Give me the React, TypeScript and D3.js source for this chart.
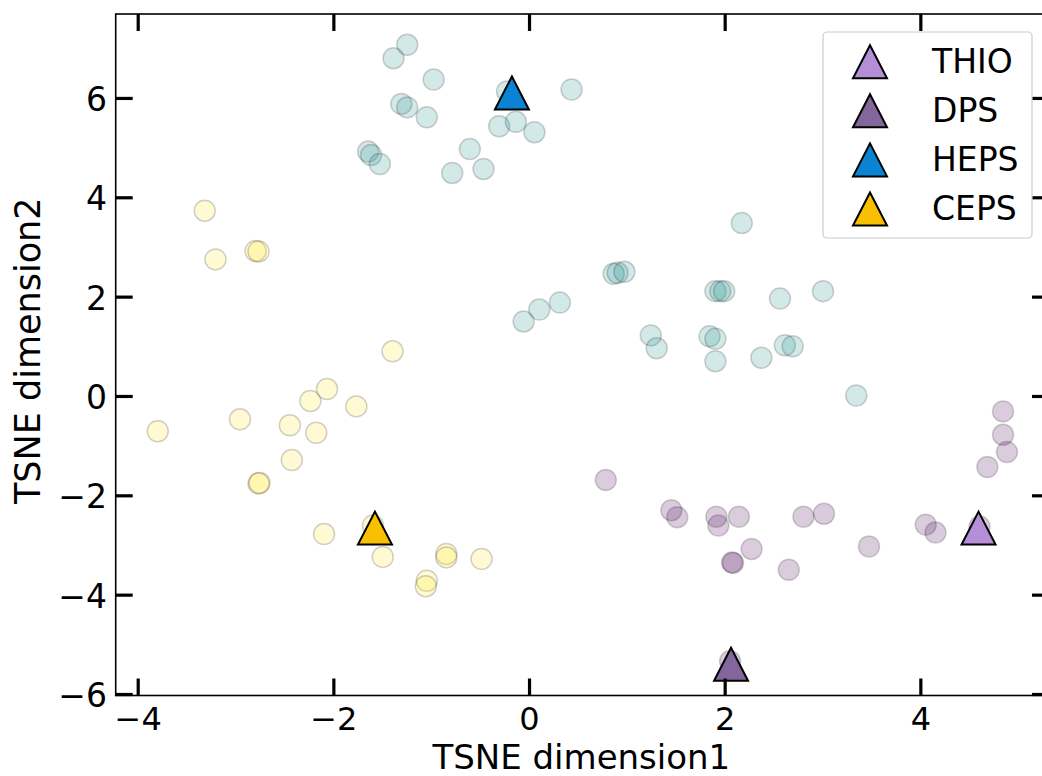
import React from "react";
import * as d3 from "d3";

// cluster points (viridis-coloured background samples)
const purplePts: [number, number][] = [
  [4.84, -0.3], [4.84, -0.77], [4.88, -1.12], [4.68, -1.42], [0.78, -1.68],
  [1.45, -2.29], [1.51, -2.43], [1.91, -2.42], [1.93, -2.6], [2.14, -2.42],
  [2.8, -2.42], [3.01, -2.36], [4.05, -2.58], [4.15, -2.74], [2.07, -3.34],
  [2.08, -3.35], [2.27, -3.07], [2.65, -3.49], [3.47, -3.02], [4.6, -2.62],
  [2.05, -5.33],
];
const tealPts: [number, number][] = [
  [-1.25, 7.08], [-1.39, 6.81], [-0.98, 6.38], [-1.31, 5.89], [-1.25, 5.82],
  [-1.05, 5.62], [-1.65, 4.93], [-1.62, 4.86], [-1.53, 4.68], [-0.61, 4.98],
  [-0.79, 4.5], [-0.47, 4.58], [-0.31, 5.44], [-0.14, 5.53], [0.05, 5.32],
  [0.43, 6.18], [-0.23, 6.14], [-0.06, 1.51], [0.1, 1.75], [0.31, 1.89],
  [0.86, 2.47], [0.9, 2.49], [0.97, 2.51], [1.24, 1.23], [1.3, 0.97],
  [1.9, 2.12], [1.95, 2.12], [1.99, 2.12], [2.56, 1.97], [3.0, 2.12],
  [1.84, 1.21], [1.9, 1.16], [1.9, 0.71], [2.37, 0.78], [2.61, 1.03],
  [2.69, 1.01], [3.34, 0.02], [2.17, 3.49],
];
const yellowPts: [number, number][] = [
  [-3.32, 3.74], [-3.21, 2.76], [-2.8, 2.93], [-2.77, 2.92], [-3.8, -0.7],
  [-2.96, -0.46], [-2.77, -1.75], [-2.76, -1.74], [-2.45, -0.58], [-2.24, -0.09],
  [-2.07, 0.15], [-2.18, -0.73], [-2.43, -1.28], [-1.77, -0.2], [-1.4, 0.91],
  [-2.1, -2.77], [-1.5, -3.23], [-0.85, -3.17], [-0.85, -3.24], [-0.49, -3.27],
  [-1.05, -3.71], [-1.06, -3.82], [-1.6, -2.6],
];

// reference samples (triangles)
const refNames = ["THIO", "DPS", "HEPS", "CEPS"];
const refX = [4.59, 2.06, -0.18, -1.58];
const refY = [-2.65, -5.39, 6.11, -2.65];
const refColors = ["#b48fd7", "#83669b", "#0a84d2", "#f8c000"];

const xTicks = [-4, -2, 0, 2, 4];
const yTicks = [-6, -4, -2, 0, 2, 4, 6];

const W = 1042;
const H = 776;
const L = 115.7, R = 1049, T = 14, B = 695.5;

export default function App() {
  const x = d3.scaleLinear().domain([-4.23, 5.31]).range([L, R]);
  const y = d3.scaleLinear().domain([-6.02, 7.7]).range([B, T]);
  const font = "'DejaVu Sans', sans-serif";
  const tri = (cx: number, cy: number, w = 34, h = 33) =>
    `M${cx},${cy - h / 2}L${cx + w / 2},${cy + h / 2}L${cx - w / 2},${cy + h / 2}Z`;
  const groups: { pts: [number, number][]; color: string }[] = [
    { pts: purplePts, color: "#440154" },
    { pts: tealPts, color: "#21918c" },
    { pts: yellowPts, color: "#fde725" },
  ];
  const tickLen = 17;
  const fmt = (t: number) => (t < 0 ? "\u2212" + Math.abs(t) : String(t));
  return (
    <svg width={W} height={H} style={{ position: "absolute", left: 0, top: 0, background: "#fff" }}
      fontFamily={font}>
      <rect x={0} y={0} width={W} height={H} fill="#fff" />
      {groups.map((g, gi) =>
        g.pts.map((p, i) => (
          <circle key={`${gi}-${i}`} cx={x(p[0])} cy={y(p[1])} r={10.5}
            fill={g.color} fillOpacity={0.2} stroke="#000" strokeOpacity={0.18} strokeWidth={1.5} />
        ))
      )}
      {refNames.map((n, i) => (
        <path key={n} d={tri(x(refX[i]), y(refY[i]))} fill={refColors[i]} stroke="#000"
          strokeWidth={2} strokeLinejoin="miter" />
      ))}
      {/* spines */}
      <rect x={L} y={T} width={R - L} height={B - T} fill="none" stroke="#000" strokeWidth={1.6} />
      {/* ticks */}
      {xTicks.map((t) => (
        <g key={"x" + t}>
          <line x1={x(t)} x2={x(t)} y1={B} y2={B - tickLen} stroke="#000" strokeWidth={3.2} />
          <line x1={x(t)} x2={x(t)} y1={T} y2={T + tickLen} stroke="#000" strokeWidth={3.2} />
          <text x={x(t)} y={730} textAnchor="middle" fontSize={32}>{fmt(t)}</text>
        </g>
      ))}
      {yTicks.map((t) => (
        <g key={"y" + t}>
          <line x1={L} x2={L + tickLen} y1={y(t)} y2={y(t)} stroke="#000" strokeWidth={3.2} />
          <line x1={R} x2={R - tickLen} y1={y(t)} y2={y(t)} stroke="#000" strokeWidth={3.2} />
          <text x={107} y={y(t) + 12.5} textAnchor="end" fontSize={33}>{fmt(t)}</text>
        </g>
      ))}
      {/* axis labels */}
      <text x={(L + R) / 2 - 1} y={769} textAnchor="middle" fontSize={34}>TSNE dimension1</text>
      <text transform={`translate(40,${(T + B) / 2 - 4}) rotate(-90)`} textAnchor="middle" fontSize={35}>
        TSNE dimension2
      </text>
      {/* legend */}
      <rect x={823} y={32} width={209} height={206} rx={4} fill="#fff" fillOpacity={0.85}
        stroke="#cccccc" strokeWidth={1.2} />
      {refNames.map((n, i) => {
        const cy = 61.7 + i * 49.1;
        return (
          <g key={"lg" + n}>
            <path d={tri(870, cy, 34, 33)} fill={refColors[i]} stroke="#000" strokeWidth={2} />
            <text x={932} y={cy + 11} fontSize={33}>{n}</text>
          </g>
        );
      })}
    </svg>
  );
}
